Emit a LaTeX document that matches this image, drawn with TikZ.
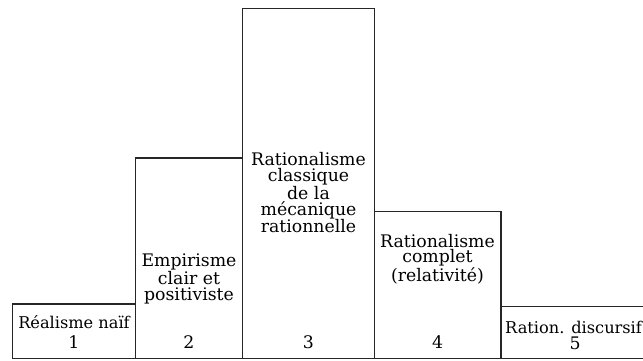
\documentclass[tikz,border=0pt]{standalone}
\usepackage{fontspec}
\setmainfont{DejaVu Serif}
\tikzset{
  bar/.style={draw=black!85,line width=1.1pt},
  barlabel/.style={align=center,inner sep=0pt,font=\fontsize{17.3}{15.8}\selectfont},
  lowlabel/.style={barlabel,font=\fontsize{16.2}{15.8}\selectfont},
}
\begin{document}
\begin{tikzpicture}[x=1pt,y=1pt]
  \useasboundingbox (0,0) rectangle (643,360);
  \coordinate (b0) at (12.5,1.7);
  \coordinate (b1) at (135.7,56);
  \coordinate (b2) at (242.5,202);
  \coordinate (b3) at (374.5,351.5);
  \coordinate (b4) at (501,148.5);
  \coordinate (b5) at (650,53.5);
  \draw[bar] (b0) rectangle (b1);
  \draw[bar] (b1|-b0) rectangle (b2);
  \draw[bar] (b2|-b0) rectangle (b3);
  \draw[bar] (b3|-b0) rectangle (b4);
  \draw[bar] (b4|-b0) rectangle (b5);
  \node[lowlabel] (t1) at (74,38) {Réalisme naïf};
  \node[barlabel] (t2) at (189,81) {Empirisme\\clair et\\positiviste};
  \node[barlabel] (t3) at (308.5,167) {Rationalisme\\classique\\de la\\mécanique\\rationnelle};
  \node[barlabel] (t4) at (437.5,101) {Rationalisme\\complet\\(relativité)};
  \node[lowlabel,anchor=west] (t5) at (505,33) {Ration. discursif};
  \node[barlabel] (n1) at (74,18) {1};
  \node[barlabel] (n2) at (189,18) {2};
  \node[barlabel] (n3) at (308.5,18) {3};
  \node[barlabel] (n4) at (437.5,18) {4};
  \node[barlabel] (n5) at (575,17) {5};
\end{tikzpicture}
\end{document}
